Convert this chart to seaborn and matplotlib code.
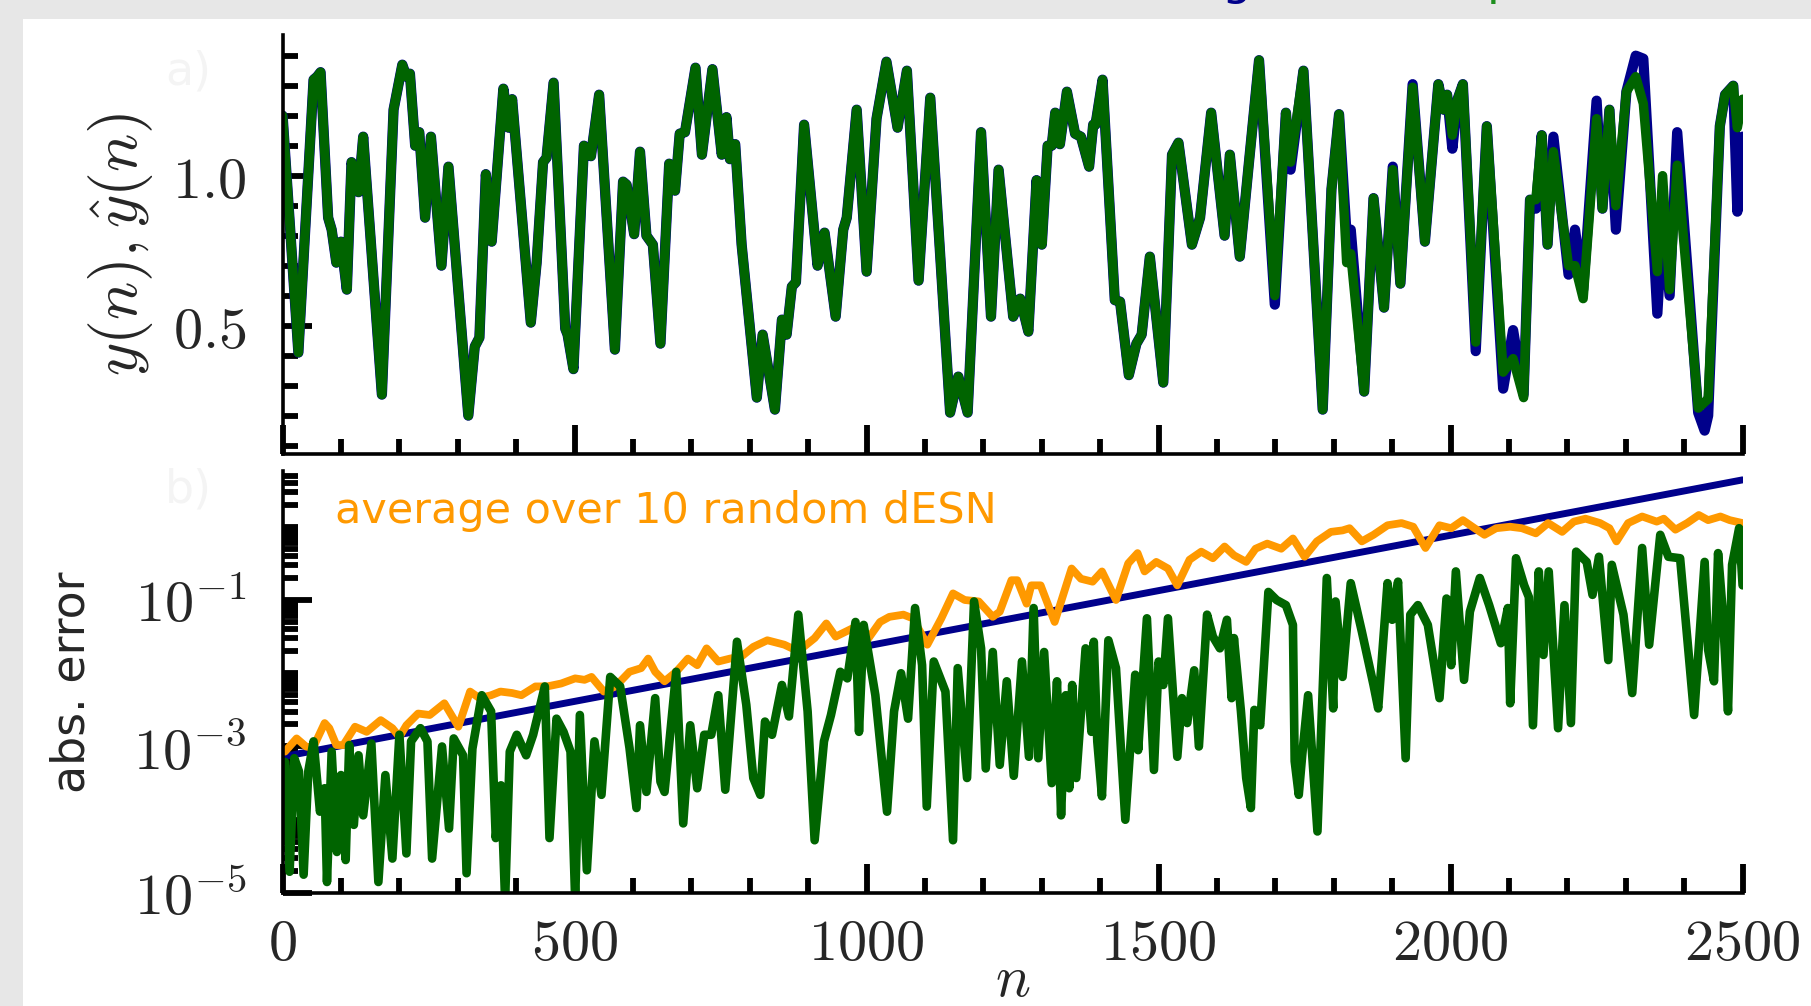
import numpy as np
import pandas as pd
import matplotlib
matplotlib.use("Agg")
import matplotlib.pyplot as plt
import seaborn as sns
from matplotlib.patches import Rectangle
from matplotlib.ticker import MultipleLocator, FixedLocator, LogLocator, NullFormatter

# ---- panel a): target y(n) and prediction y_hat(n) ----
n_top = [0, 27, 53, 59, 65, 78, 84, 92, 100, 110, 118, 130, 138, 170, 190, 205, 212, 218, 227, 234,
         244, 254, 272, 284, 318, 329, 337, 348, 358, 378, 387, 393, 425, 435, 446, 452, 464, 484, 488, 498,
         516, 528, 542, 569, 583, 589, 602, 612, 623, 634, 647, 662, 672, 680, 689, 707, 718, 736, 752, 760,
         766, 775, 786, 812, 822, 843, 855, 863, 872, 879, 893, 916, 928, 947, 960, 966, 983, 1000, 1017, 1034,
         1053, 1069, 1089, 1109, 1143, 1157, 1173, 1196, 1213, 1226, 1251, 1263, 1277, 1291, 1300, 1310, 1317, 1323, 1331, 1343,
         1357, 1367, 1381, 1388, 1392, 1404, 1425, 1434, 1449, 1462, 1471, 1485, 1508, 1523, 1534, 1557, 1571, 1590, 1613, 1622,
         1639, 1655, 1672, 1699, 1718, 1726, 1748, 1781, 1796, 1809, 1822, 1829, 1852, 1868, 1886, 1901, 1914, 1935, 1956, 1979,
         1988, 1994, 2003, 2012, 2021, 2043, 2062, 2090, 2107, 2125, 2136, 2146, 2156, 2166, 2176, 2202, 2213, 2227, 2250, 2260,
         2272, 2283, 2301, 2317, 2330, 2354, 2363, 2375, 2388, 2424, 2435, 2441, 2461, 2470, 2484, 2491, 2500]
y_pred = [1.20, 0.41, 1.32, 1.33, 1.345, 0.86, 0.82, 0.71, 0.78, 0.62, 1.045, 0.945, 1.13, 0.27, 1.22, 1.37, 1.33, 1.34, 1.10, 1.145,
          0.86, 1.13, 0.70, 1.03, 0.20, 0.43, 0.46, 1.005, 0.78, 1.29, 1.16, 1.255, 0.51, 0.71, 1.045, 1.06, 1.31, 0.49, 0.47, 0.355,
          1.10, 1.065, 1.27, 0.42, 0.98, 0.97, 0.805, 1.08, 0.80, 0.77, 0.44, 1.04, 0.95, 1.14, 1.145, 1.36, 1.07, 1.355, 1.07, 1.195,
          1.055, 1.105, 0.77, 0.26, 0.47, 0.22, 0.52, 0.47, 0.63, 0.645, 1.17, 0.70, 0.81, 0.53, 0.82, 0.86, 1.22, 0.68, 1.19, 1.38,
          1.16, 1.35, 0.65, 1.26, 0.21, 0.33, 0.21, 1.145, 0.53, 1.02, 0.53, 0.59, 0.48, 0.985, 0.77, 1.10, 1.10, 1.21, 1.105, 1.28,
          1.14, 1.13, 1.03, 1.17, 1.17, 1.32, 0.585, 0.58, 0.335, 0.44, 0.47, 0.73, 0.31, 1.07, 1.11, 0.77, 0.86, 1.21, 0.80, 1.07,
          0.73, 1.05, 1.385, 0.60, 1.21, 1.045, 1.35, 0.22, 0.955, 1.205, 0.71, 0.74, 0.28, 0.925, 0.56, 1.02, 0.64, 1.295, 0.78, 1.305,
          1.22, 1.27, 1.135, 1.255, 1.305, 0.445, 1.165, 0.345, 0.39, 0.26, 0.92, 0.92, 1.135, 0.77, 1.08, 0.70, 0.70, 0.59, 1.19, 0.89,
          1.22, 0.90, 1.28, 1.33, 1.24, 0.68, 1.00, 0.62, 1.035, 0.225, 0.245, 0.255, 1.165, 1.27, 1.30, 1.16, 1.255]
y_true = [1.20, 0.41, 1.32, 1.33, 1.345, 0.86, 0.82, 0.71, 0.78, 0.62, 1.045, 0.945, 1.13, 0.27, 1.22, 1.37, 1.33, 1.34, 1.10, 1.145,
          0.86, 1.13, 0.70, 1.03, 0.20, 0.43, 0.46, 1.005, 0.78, 1.29, 1.16, 1.255, 0.51, 0.71, 1.045, 1.06, 1.31, 0.49, 0.47, 0.355,
          1.10, 1.065, 1.27, 0.42, 0.98, 0.97, 0.805, 1.08, 0.80, 0.77, 0.44, 1.04, 0.95, 1.14, 1.145, 1.36, 1.07, 1.355, 1.07, 1.195,
          1.055, 1.105, 0.77, 0.26, 0.47, 0.22, 0.52, 0.47, 0.63, 0.645, 1.17, 0.70, 0.81, 0.53, 0.82, 0.86, 1.22, 0.68, 1.19, 1.38,
          1.16, 1.35, 0.65, 1.26, 0.21, 0.33, 0.21, 1.145, 0.53, 1.02, 0.53, 0.59, 0.48, 0.985, 0.77, 1.10, 1.10, 1.21, 1.105, 1.28,
          1.14, 1.13, 1.03, 1.17, 1.17, 1.32, 0.585, 0.58, 0.335, 0.44, 0.47, 0.73, 0.31, 1.07, 1.11, 0.77, 0.86, 1.21, 0.80, 1.07,
          0.73, 1.05, 1.385, 0.57, 1.21, 1.02, 1.35, 0.22, 0.955, 1.205, 0.80, 0.82, 0.28, 0.925, 0.56, 1.03, 0.64, 1.305, 0.78, 1.305,
          1.22, 1.27, 1.09, 1.255, 1.305, 0.415, 1.165, 0.29, 0.485, 0.27, 0.92, 0.89, 1.135, 0.77, 1.13, 0.67, 0.82, 0.62, 1.25, 0.89,
          1.22, 0.82, 1.28, 1.40, 1.39, 0.54, 0.85, 0.60, 1.145, 0.21, 0.15, 0.20, 1.165, 1.27, 1.30, 0.88, 1.13]

# ---- panel b): absolute errors (log10 of the value read on the log axis) ----
n_bound = [0, 2500]
bound_log10 = [-3.14, 0.64]

n_avg = [4, 24, 40, 52, 72, 80, 92, 104, 124, 144, 168, 188, 200, 212, 232, 252, 277, 301, 321, 337,
         357, 373, 393, 409, 433, 453, 477, 501, 517, 529, 550, 570, 594, 614, 626, 638, 654, 674, 694, 710,
         726, 746, 766, 786, 806, 830, 859, 883, 911, 931, 947, 975, 999, 1023, 1039, 1063, 1079, 1104, 1128, 1148,
         1168, 1192, 1216, 1228, 1248, 1258, 1274, 1282, 1298, 1322, 1351, 1367, 1387, 1403, 1427, 1448, 1464, 1476, 1496, 1516,
         1532, 1553, 1573, 1593, 1613, 1629, 1650, 1666, 1686, 1710, 1730, 1750, 1771, 1795, 1815, 1827, 1848, 1868, 1892, 1916,
         1936, 1957, 1981, 2001, 2021, 2041, 2058, 2078, 2102, 2122, 2146, 2167, 2191, 2211, 2231, 2256, 2272, 2284, 2304, 2328,
         2353, 2365, 2385, 2405, 2425, 2441, 2462, 2478, 2500]
avg_log10 = [-3.07, -2.89, -3.0, -3.02, -2.68, -2.75, -2.98, -2.98, -2.73, -2.80, -2.64, -2.75, -2.87, -2.71, -2.55, -2.57, -2.41, -2.73, -2.25, -2.34,
             -2.30, -2.25, -2.27, -2.30, -2.18, -2.18, -2.14, -2.07, -2.09, -2.05, -2.25, -2.18, -1.98, -1.93, -1.80, -1.98, -2.11, -1.98, -1.80, -1.89,
             -1.66, -1.84, -1.80, -1.77, -1.64, -1.55, -1.61, -1.70, -1.52, -1.32, -1.50, -1.39, -1.57, -1.30, -1.23, -1.20, -1.25, -1.61, -1.25, -0.91,
             -1.0, -1.02, -1.23, -1.16, -0.73, -0.73, -1.05, -0.80, -0.80, -1.30, -0.57, -0.71, -0.75, -0.61, -1.0, -0.50, -0.36, -0.61, -0.48, -0.57,
             -0.80, -0.45, -0.34, -0.43, -0.27, -0.39, -0.48, -0.30, -0.23, -0.30, -0.16, -0.41, -0.20, -0.07, -0.05, -0.02, -0.20, -0.11, 0.02, 0.05,
             0.0, -0.29, 0.02, -0.02, 0.09, -0.02, -0.11, -0.02, 0.0, -0.02, -0.09, 0.05, -0.07, 0.07, 0.11, 0.05, -0.02, -0.20, 0.05, 0.14,
             0.07, 0.11, -0.04, 0.05, 0.16, 0.09, 0.14, 0.09, 0.05]

n_err = [4, 12, 20, 28, 36, 44, 53, 64, 72, 76, 84, 93, 100, 108, 114, 122, 130, 138, 152, 164,
         176, 188, 200, 212, 220, 236, 248, 256, 273, 285, 293, 309, 315, 325, 341, 357, 365, 374, 381, 389,
         401, 417, 429, 449, 457, 469, 481, 493, 501, 509, 521, 534, 546, 561, 578, 594, 606, 612, 623, 638,
         647, 654, 674, 686, 698, 710, 722, 734, 746, 758, 778, 794, 806, 818, 826, 838, 855, 867, 883, 899,
         911, 927, 939, 955, 967, 981, 987, 995, 1015, 1035, 1047, 1059, 1071, 1083, 1095, 1103, 1115, 1135, 1148, 1156,
         1172, 1184, 1196, 1204, 1216, 1228, 1240, 1252, 1266, 1278, 1286, 1294, 1304, 1317, 1326, 1333, 1341, 1347, 1352, 1359,
         1375, 1385, 1389, 1395, 1403, 1414, 1427, 1443, 1460, 1465, 1480, 1492, 1500, 1508, 1516, 1532, 1540, 1549, 1561, 1569,
         1583, 1593, 1605, 1617, 1625, 1629, 1641, 1650, 1658, 1664, 1674, 1688, 1702, 1718, 1730, 1733, 1740, 1746, 1756, 1772,
         1788, 1799, 1803, 1815, 1829, 1848, 1868, 1876, 1892, 1900, 1910, 1923, 1931, 1944, 1961, 1981, 1993, 2001, 2009, 2023,
         2033, 2050, 2066, 2086, 2098, 2102, 2112, 2126, 2134, 2141, 2151, 2159, 2168, 2184, 2195, 2206, 2215, 2233, 2243, 2254,
         2270, 2276, 2296, 2311, 2328, 2340, 2359, 2373, 2393, 2417, 2435, 2441, 2451, 2458, 2466, 2475, 2482, 2494, 2500]
err_log10 = [-3.21, -4.71, -3.16, -3.34, -4.75, -3.34, -2.93, -3.89, -3.57, -4.85, -3.07, -4.44, -3.39, -4.55, -2.98, -4.07, -3.12, -3.94, -2.96, -4.85,
             -3.39, -4.53, -2.84, -4.46, -2.93, -2.75, -2.93, -4.53, -3.0, -4.12, -2.89, -3.12, -4.73, -3.03, -2.30, -2.52, -4.25, -3.53, -5.1, -3.07,
             -2.84, -3.12, -2.84, -2.18, -4.25, -2.62, -2.80, -3.07, -5.1, -2.57, -4.69, -2.93, -3.66, -2.05, -2.18, -3.02, -3.84, -2.71, -3.62, -2.34,
             -3.48, -3.62, -1.98, -4.05, -2.71, -3.57, -2.84, -2.84, -2.30, -3.59, -1.57, -2.43, -3.43, -3.66, -2.66, -2.84, -2.16, -2.59, -1.20, -2.52,
             -4.28, -2.93, -2.57, -1.98, -2.07, -1.30, -2.80, -1.34, -2.30, -3.89, -2.52, -2.0, -2.62, -1.11, -1.89, -3.82, -1.84, -2.25, -4.28, -1.93,
             -3.43, -1.02, -1.66, -3.30, -1.71, -3.25, -2.11, -3.40, -1.84, -3.14, -1.11, -3.16, -1.71, -3.50, -2.11, -3.94, -2.30, -3.57, -2.16, -3.43,
             -1.66, -2.80, -1.57, -2.93, -3.68, -1.55, -1.93, -4.0, -2.02, -3.05, -1.25, -3.32, -1.84, -2.16, -1.25, -3.14, -2.34, -2.68, -1.96, -3.0,
             -1.20, -1.50, -1.66, -1.27, -2.34, -1.52, -2.52, -3.43, -3.84, -2.50, -2.71, -0.89, -1.0, -1.07, -1.34, -3.20, -3.66, -3.11, -2.30, -4.16,
             -0.70, -2.48, -1.02, -2.05, -0.77, -1.43, -2.16, -2.48, -0.77, -1.27, -0.75, -3.16, -1.20, -1.07, -1.34, -2.34, -0.98, -1.89, -0.61, -2.09,
             -1.16, -0.70, -1.07, -1.59, -1.11, -2.41, -0.43, -0.80, -0.96, -2.71, -0.61, -1.75, -0.61, -2.75, -1.07, -2.68, -0.34, -0.48, -0.93, -0.41,
             -1.82, -0.52, -1.20, -2.27, -0.29, -1.61, -0.11, -0.41, -0.43, -2.57, -0.48, -1.68, -2.11, -0.36, -1.16, -2.52, -0.52, -0.02, -0.80]

x_ticks = [0, 500, 1000, 1500, 2000, 2500]
top_yticks = [0.5, 1.0]
err_yticks = [1e-5, 1e-3, 1e-1]
err_ytick_labels = [r"$10^{-5}$", r"$10^{-3}$", r"$10^{-1}$"]

c_true = "#00008b"
c_pred = "#006400"
c_avg = "#ff9900"

sns.set_style("white")
plt.rcParams["mathtext.fontset"] = "cm"
plt.rcParams["font.family"] = ["DejaVu Sans"]

fig = plt.figure(figsize=(18.11, 10.06), dpi=100, facecolor="#e7e7e7")
# white slide area
fig.add_artist(Rectangle((23 / 1811, 0), 1, 1 - 19 / 1006, transform=fig.transFigure,
                         facecolor="white", edgecolor="none", zorder=-5))
# cut-off title letters peeking in at the top edge
fig.text(1236 / 1811, 1.006, "g", color=c_true, fontsize=34, ha="center", va="baseline")
fig.text(1487 / 1811, 1.006, "p", color="#1f8f1f", fontsize=34, ha="left", va="baseline")

ax1 = fig.add_axes([282.6 / 1811, 1 - 454 / 1006, 1460 / 1811, 419 / 1006])
ax2 = fig.add_axes([282.6 / 1811, 1 - 893 / 1006, 1460 / 1811, 422 / 1006])

top_df = pd.DataFrame({"n": n_top, "y": y_true, "y_hat": y_pred})
sns.lineplot(data=top_df, x="n", y="y", ax=ax1, color=c_true, linewidth=7.4,
             sort=False, estimator=None)
sns.lineplot(data=top_df, x="n", y="y_hat", ax=ax1, color=c_pred, linewidth=6.8,
             sort=False, estimator=None)

bound_df = pd.DataFrame({"n": n_bound, "err": np.power(10.0, bound_log10)})
avg_df = pd.DataFrame({"n": n_avg, "err": np.power(10.0, avg_log10)})
err_df = pd.DataFrame({"n": n_err, "err": np.power(10.0, err_log10)})
sns.lineplot(data=bound_df, x="n", y="err", ax=ax2, color=c_true, linewidth=5.0,
             sort=False, estimator=None)
sns.lineplot(data=avg_df, x="n", y="err", ax=ax2, color=c_avg, linewidth=5.6,
             sort=False, estimator=None)
sns.lineplot(data=err_df, x="n", y="err", ax=ax2, color=c_pred, linewidth=6.2,
             sort=False, estimator=None)
ax2.set_yscale("log")

for ax in (ax1, ax2):
    sns.despine(ax=ax)
    for side in ("left", "bottom"):
        ax.spines[side].set_linewidth(2.6)
        ax.spines[side].set_color("black")
    for line in ax.get_lines():
        line.set_solid_joinstyle("round")
        line.set_solid_capstyle("round")
    ax.set_xlim(0, 2500)
    ax.set_xticks(x_ticks)
    ax.xaxis.set_minor_locator(MultipleLocator(100))
    ax.tick_params(which="major", direction="in", length=21, width=4.2, color="black",
                   left=True, bottom=True, labelsize=42)
    ax.tick_params(which="minor", direction="in", length=10.5, width=4.2, color="black",
                   left=True, bottom=True)
    ax.tick_params(axis="y", which="major", pad=26)
    ax.tick_params(axis="x", which="major", pad=16)
    ax.set_facecolor("white")

ax1.set_ylim(0.072, 1.469)
ax1.set_yticks(top_yticks)
ax1.set_yticklabels([f"${v:.1f}$" for v in top_yticks])
ax1.yaxis.set_minor_locator(MultipleLocator(0.1))
ax1.tick_params(labelbottom=False)
ax1.set_xlabel("")
ax1.set_ylabel(r"$y(n), \hat{y}(n)$", fontsize=46, va="center", ha="center",
               rotation_mode="anchor")
ax1.yaxis.set_label_coords(-0.1107, 0.5)

ax2.set_ylim(1e-5, 10 ** 0.761)
ax2.yaxis.set_major_locator(FixedLocator(err_yticks))
ax2.set_yticklabels(err_ytick_labels)
ax2.yaxis.set_minor_locator(LogLocator(base=10, subs=np.arange(1, 10), numticks=100))
ax2.yaxis.set_minor_formatter(NullFormatter())
ax2.set_xticklabels([f"${t}$" for t in x_ticks])
ax2.set_ylabel("abs. error", fontsize=33, va="center", ha="center", rotation_mode="anchor")
ax2.yaxis.set_label_coords(-0.1442, 0.5)
ax2.set_xlabel(r"$n$", fontsize=42, va="center")
ax2.xaxis.set_label_coords(0.5, -0.205)
ax2.text(0.036, 0.905, "average over 10 random dESN", transform=ax2.transAxes,
         color=c_avg, fontsize=31, ha="left", va="center")

# faint panel letters
fig.text(165 / 1811, 1 - 72 / 1006, "a)", color="#f4f4f4", fontsize=33, va="center")
fig.text(165 / 1811, 1 - 490 / 1006, "b)", color="#f4f4f4", fontsize=33, va="center")

fig.savefig("out.png", dpi=100, facecolor=fig.get_facecolor())
